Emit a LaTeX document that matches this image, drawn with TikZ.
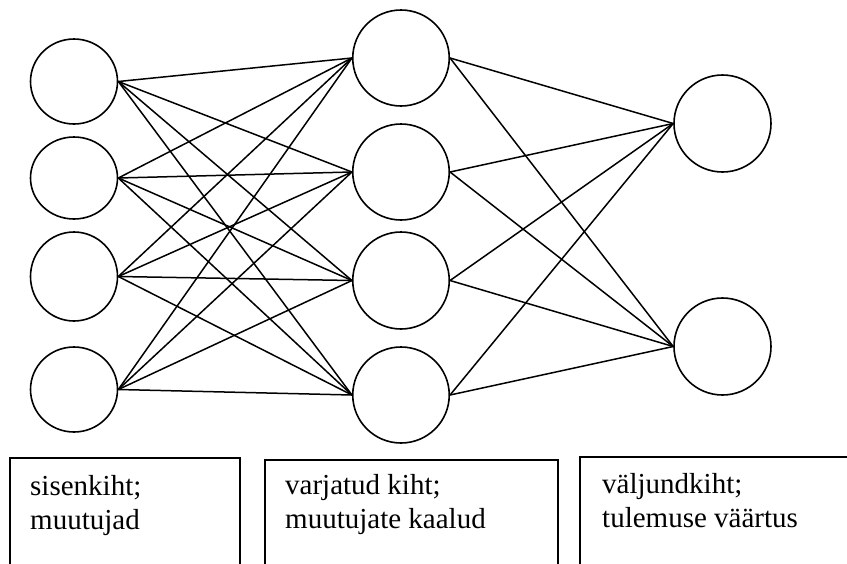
\documentclass[tikz,border=0pt]{standalone}
\usepackage{fontspec}
\setmainfont{Liberation Serif}
\usetikzlibrary{shapes.geometric}
\tikzset{
  neuron/.style={ellipse, draw, line width=1.6pt, inner sep=0pt},
  link/.style={line width=1.5pt},
  layerbox/.style={draw, line width=1.6pt, anchor=north west, inner sep=0pt},
  boxtext/.style={anchor=base west, inner sep=0pt, font=\fontsize{29}{34}\selectfont}
}
\begin{document}
\begin{tikzpicture}[x=1pt,y=-1pt]
\useasboundingbox (0,0) rectangle (847,563);
\clip (0,0) rectangle (847,563);
% input layer
\node[neuron, minimum width=87pt, minimum height=85pt] (i1) at (74,81.5) {};
\node[neuron, minimum width=87pt, minimum height=82pt] (i2) at (74,178) {};
\node[neuron, minimum width=87pt, minimum height=89pt] (i3) at (74,276.5) {};
\node[neuron, minimum width=87pt, minimum height=85pt] (i4) at (74,389.5) {};
% hidden layer
\node[neuron, minimum width=96.5pt, minimum height=96pt] (h1) at (401,58) {};
\node[neuron, minimum width=96.5pt, minimum height=96pt] (h2) at (401,172) {};
\node[neuron, minimum width=96.5pt, minimum height=97pt] (h3) at (401,280.5) {};
\node[neuron, minimum width=96.5pt, minimum height=96pt] (h4) at (401,395) {};
% output layer
\node[neuron, minimum width=97pt, minimum height=97pt] (o1) at (722.5,123.5) {};
\node[neuron, minimum width=97pt, minimum height=97pt] (o2) at (722.5,346.5) {};
% connections
\foreach \a in {1,2,3,4}{
  \foreach \b in {1,2,3,4}{
    \draw[link] (i\a.east) -- (h\b.west);
  }
  \foreach \c in {1,2}{
    \draw[link] (h\a.east) -- (o\c.west);
  }
}
% boxes (bottoms run off the page)
\node[layerbox, minimum width=230pt, minimum height=130pt] (b1) at (9,457) {};
\node[layerbox, minimum width=293pt, minimum height=130pt] (b2) at (264,459) {};
\node[layerbox, minimum width=300pt, minimum height=130pt] (b3) at (579,456) {};
\node[boxtext] (t1) at (30,495) {\begin{tabular}[t]{@{}l@{}}sisenkiht;\\muutujad\end{tabular}};
\node[boxtext] (t2) at (285,494) {\begin{tabular}[t]{@{}l@{}}varjatud kiht;\\muutujate kaalud\end{tabular}};
\node[boxtext] (t3) at (602,493) {\begin{tabular}[t]{@{}l@{}}väljundkiht;\\tulemuse väärtus\end{tabular}};
\end{tikzpicture}
\end{document}
